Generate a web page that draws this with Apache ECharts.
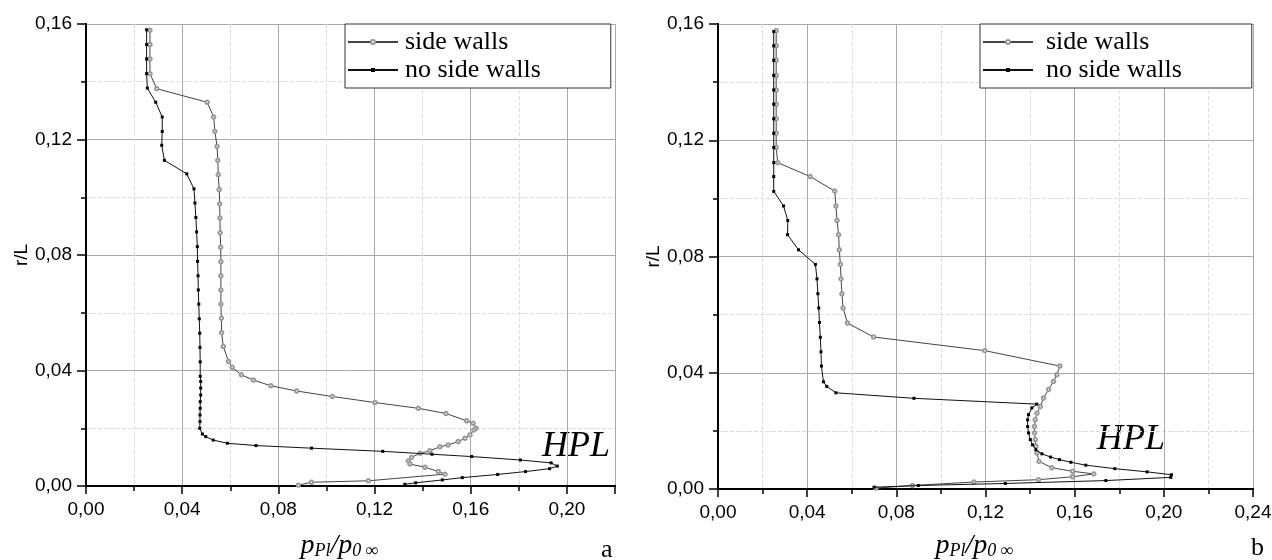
<!DOCTYPE html>
<html>
<head>
<meta charset="utf-8">
<script src="https://cdn.jsdelivr.net/npm/echarts@6/dist/echarts.min.js"></script>
<style>
  html, body { margin: 0; padding: 0; background: #fff; }
  #chart { width: 1272px; height: 560px; }
</style>
</head>
<body>
<div id="chart"></div>
<script>
// chart a
const aSideX = [0.0266, 0.0266, 0.0266, 0.0266, 0.0294, 0.0504, 0.0531, 0.0536, 0.0545, 0.0548, 0.055, 0.0554, 0.0556, 0.0557, 0.0558, 0.056, 0.0561, 0.0561, 0.0561, 0.0561, 0.0563, 0.0564, 0.0571, 0.0593, 0.0608, 0.0646, 0.0696, 0.0769, 0.0876, 0.1024, 0.1202, 0.1382, 0.1497, 0.1583, 0.161, 0.1622, 0.1613, 0.1597, 0.1576, 0.1548, 0.1506, 0.1472, 0.143, 0.1389, 0.1354, 0.134, 0.1347, 0.141, 0.1465, 0.1493, 0.1174, 0.0938, 0.0883];
const aSideY = [0.1578, 0.1529, 0.1479, 0.1428, 0.1376, 0.1329, 0.1278, 0.1228, 0.1176, 0.1128, 0.1078, 0.1027, 0.0977, 0.0928, 0.0877, 0.0827, 0.0777, 0.0728, 0.0679, 0.063, 0.0581, 0.0531, 0.0483, 0.0431, 0.0411, 0.0385, 0.0367, 0.0347, 0.0329, 0.031, 0.0289, 0.0269, 0.0251, 0.0226, 0.0217, 0.02, 0.0194, 0.0177, 0.0165, 0.0154, 0.0142, 0.0136, 0.0122, 0.0113, 0.0099, 0.0087, 0.0076, 0.0065, 0.005, 0.0041, 0.0018, 0.0013, 0.0003];
const aNoX = [0.0252, 0.0252, 0.0252, 0.0252, 0.0255, 0.029, 0.0317, 0.0317, 0.0315, 0.0326, 0.0419, 0.0449, 0.0453, 0.0457, 0.046, 0.0463, 0.0464, 0.0466, 0.0467, 0.0469, 0.0471, 0.0473, 0.0474, 0.0475, 0.0475, 0.0477, 0.0477, 0.0477, 0.0475, 0.0475, 0.0474, 0.0474, 0.0473, 0.0484, 0.0498, 0.0529, 0.0588, 0.0707, 0.0938, 0.1234, 0.1439, 0.1604, 0.1806, 0.1934, 0.196, 0.1928, 0.1828, 0.1712, 0.1565, 0.1482, 0.1371, 0.1326];
const aNoY = [0.158, 0.1529, 0.1479, 0.1428, 0.1378, 0.1329, 0.1278, 0.1228, 0.118, 0.1128, 0.1081, 0.1029, 0.098, 0.093, 0.088, 0.0829, 0.0778, 0.0728, 0.0679, 0.063, 0.0579, 0.0529, 0.048, 0.043, 0.038, 0.0362, 0.0339, 0.0315, 0.0292, 0.0269, 0.0246, 0.0223, 0.02, 0.018, 0.0171, 0.0159, 0.0148, 0.014, 0.0131, 0.012, 0.011, 0.0102, 0.009, 0.008, 0.0069, 0.006, 0.005, 0.004, 0.0029, 0.0021, 0.0011, 0.0006];

// chart b
const bSideX = [0.0261, 0.0261, 0.0261, 0.0261, 0.0261, 0.0261, 0.0261, 0.0261, 0.0261, 0.0268, 0.0414, 0.0524, 0.0529, 0.0534, 0.0541, 0.0544, 0.0549, 0.0552, 0.0556, 0.0561, 0.0581, 0.0698, 0.1197, 0.1534, 0.152, 0.1505, 0.1483, 0.146, 0.1446, 0.1431, 0.1423, 0.142, 0.142, 0.1423, 0.1426, 0.1431, 0.144, 0.1498, 0.159, 0.1686, 0.159, 0.1438, 0.1148, 0.0872, 0.0708];
const bSideY = [0.1577, 0.1525, 0.1475, 0.1423, 0.1373, 0.1324, 0.1274, 0.1224, 0.1175, 0.1123, 0.1075, 0.1025, 0.0974, 0.0924, 0.0875, 0.0823, 0.0773, 0.0723, 0.0672, 0.0623, 0.0571, 0.0523, 0.0476, 0.0423, 0.0393, 0.037, 0.0342, 0.0313, 0.0284, 0.0261, 0.0238, 0.0215, 0.0193, 0.017, 0.0147, 0.0124, 0.0095, 0.0073, 0.0061, 0.0052, 0.0042, 0.0032, 0.0024, 0.0012, 0.0003];
const bNoX = [0.025, 0.025, 0.025, 0.025, 0.025, 0.025, 0.025, 0.025, 0.025, 0.025, 0.025, 0.025, 0.0294, 0.0313, 0.0312, 0.0361, 0.0437, 0.0444, 0.0448, 0.0452, 0.0455, 0.0459, 0.0462, 0.0464, 0.0473, 0.0488, 0.0529, 0.0879, 0.143, 0.1408, 0.1393, 0.1389, 0.1389, 0.1393, 0.1401, 0.1411, 0.1426, 0.1453, 0.1492, 0.1532, 0.1583, 0.165, 0.178, 0.1925, 0.2034, 0.2031, 0.174, 0.1289, 0.0899, 0.07];
const bNoY = [0.1574, 0.1525, 0.1475, 0.1423, 0.1373, 0.1324, 0.1274, 0.1224, 0.1175, 0.1123, 0.1075, 0.1024, 0.0974, 0.0924, 0.0875, 0.0823, 0.0773, 0.0723, 0.0672, 0.0623, 0.0573, 0.0522, 0.0472, 0.0423, 0.0369, 0.0353, 0.0331, 0.0312, 0.0292, 0.0279, 0.0256, 0.0238, 0.0215, 0.0193, 0.017, 0.0152, 0.0135, 0.0121, 0.011, 0.0101, 0.0092, 0.0082, 0.007, 0.0059, 0.0049, 0.004, 0.0029, 0.0019, 0.0012, 0.0006];

// axis ranges / ticks
const tickStep = 0.04;
const xMaxA = 0.22;
const xMaxB = 0.24;
const yMax = 0.16;
const seriesNames = ['side walls', 'no side walls'];

const zip = (xs, ys) => xs.map((x, i) => [x, ys[i]]);
const fmt = (v) => v.toFixed(2).replace('.', ',');

const labelFont = { fontFamily: 'Liberation Sans', fontSize: 19, color: '#000' };

const xAxisFor = (gridIndex, max, showMax, nameGap) => [
  {
    gridIndex,
    type: 'value',
    min: 0,
    max,
    interval: tickStep,
    position: 'bottom',
    name: '{i|p}{s|Pl}{i|/p}{s|0 ∞}',
    nameLocation: 'middle',
    nameGap,
    nameTextStyle: {
      padding: [0, 22, 0, 0],
      rich: {
        i: { fontFamily: 'Liberation Serif', fontStyle: 'italic', fontSize: 28, color: '#000', verticalAlign: 'bottom', lineHeight: 30 },
        s: { fontFamily: 'Liberation Serif', fontStyle: 'italic', fontSize: 18, color: '#000', verticalAlign: 'bottom', lineHeight: 30, padding: [8, 0, 0, 0] },
      },
    },
    axisLine: { lineStyle: { color: '#000', width: 2 } },
    axisTick: { inside: false, length: 7, lineStyle: { color: '#000', width: 1.5 } },
    minorTick: { show: true, splitNumber: 2, length: 5, lineStyle: { color: '#000', width: 1.5 } },
    axisLabel: { ...labelFont, margin: 14, formatter: fmt, showMaxLabel: showMax },
    splitLine: { show: true, lineStyle: { color: '#aaa', width: 1 } },
    minorSplitLine: { show: true, lineStyle: { color: '#ddd', width: 1, type: 'dashed' } },
  },
  {
    gridIndex,
    type: 'value',
    min: 0,
    max,
    interval: tickStep,
    position: 'top',
    axisLine: { lineStyle: { color: '#000', width: 2 } },
    axisTick: { inside: true, length: 8, lineStyle: { color: '#000', width: 1.5 } },
    minorTick: { show: true, splitNumber: 2, length: 5, lineStyle: { color: '#000', width: 1.5 } },
    axisLabel: { show: false },
    splitLine: { show: false },
  },
];

const yAxisFor = (gridIndex, nameGap) => [
  {
    gridIndex,
    type: 'value',
    min: 0,
    max: yMax,
    interval: tickStep,
    position: 'left',
    name: 'r/L',
    nameLocation: 'middle',
    nameGap,
    nameTextStyle: { fontFamily: 'Liberation Sans', fontSize: 19, color: '#000' },
    axisLine: { lineStyle: { color: '#000', width: 2 } },
    axisTick: { inside: false, length: 9, lineStyle: { color: '#000', width: 1.5 } },
    minorTick: { show: true, splitNumber: 2, length: 5, lineStyle: { color: '#000', width: 1.5 } },
    axisLabel: { ...labelFont, margin: 14, formatter: fmt },
    splitLine: { show: true, lineStyle: { color: '#aaa', width: 1 } },
    minorSplitLine: { show: true, lineStyle: { color: '#ddd', width: 1, type: 'dashed' } },
  },
  {
    gridIndex,
    type: 'value',
    min: 0,
    max: yMax,
    interval: tickStep,
    position: 'right',
    axisLine: { lineStyle: { color: '#000', width: 2 } },
    axisTick: { inside: true, length: 8, lineStyle: { color: '#000', width: 1.5 } },
    minorTick: { show: true, splitNumber: 2, length: 5, lineStyle: { color: '#000', width: 1.5 } },
    axisLabel: { show: false },
    splitLine: { show: false },
  },
];

const sideStyle = {
  type: 'line',
  symbol: 'emptyCircle',
  symbolSize: 3.5,
  itemStyle: { color: '#999', borderWidth: 0.8 },
  lineStyle: { color: '#444', width: 1 },
  z: 3,
};
const noStyle = {
  type: 'line',
  symbol: 'rect',
  symbolSize: 3,
  itemStyle: { color: '#000' },
  lineStyle: { color: '#111', width: 1 },
  z: 4,
};

const legendFor = (left, textPad) => ({
  left,
  top: 24,
  orient: 'vertical',
  data: seriesNames,
  itemWidth: 50,
  itemHeight: 5,
  itemGap: 0,
  padding: [4, 70, 4, 2],
  backgroundColor: '#fff',
  borderColor: '#333',
  borderWidth: 1,
  borderRadius: 0,
  textStyle: { fontFamily: 'Liberation Serif', fontSize: 26, color: '#000', lineHeight: 28, padding: [0, 0, 0, textPad] },
});

const chart = echarts.init(document.getElementById('chart'));

const option = {
  animation: false,
  backgroundColor: '#fff',
  grid: [
    { left: 86, right: 657, top: 24, bottom: 74, containLabel: false, outerBoundsMode: 'none' },
    { left: 718, right: 19, top: 24, bottom: 71, containLabel: false, outerBoundsMode: 'none' },
  ],
  xAxis: [...xAxisFor(0, xMaxA, false, 44), ...xAxisFor(1, xMaxB, true, 41)],
  yAxis: [...yAxisFor(0, 53), ...yAxisFor(1, 51)],
  legend: [legendFor(345, 2), legendFor(980, 8)],
  series: [
    { ...sideStyle, name: seriesNames[0], xAxisIndex: 0, yAxisIndex: 0, data: zip(aSideX, aSideY) },
    { ...noStyle, name: seriesNames[1], xAxisIndex: 0, yAxisIndex: 0, data: zip(aNoX, aNoY) },
    { ...sideStyle, name: seriesNames[0], xAxisIndex: 2, yAxisIndex: 2, data: zip(bSideX, bSideY) },
    { ...noStyle, name: seriesNames[1], xAxisIndex: 2, yAxisIndex: 2, data: zip(bNoX, bNoY) },
  ],
  graphic: [
    { type: 'text', left: 542, top: 429, style: { text: 'HPL', font: 'italic 36px "Liberation Serif"', fill: '#000' } },
    { type: 'text', left: 1097, top: 422, style: { text: 'HPL', font: 'italic 36px "Liberation Serif"', fill: '#000' } },
    { type: 'text', left: 601, top: 537, style: { text: 'a', font: '26px "Liberation Serif"', fill: '#000' } },
    { type: 'text', left: 1251, top: 535, style: { text: 'b', font: '26px "Liberation Serif"', fill: '#000' } },
  ],
};

chart.setOption(option);
window.addEventListener('resize', () => chart.resize());
</script>
</body>
</html>
